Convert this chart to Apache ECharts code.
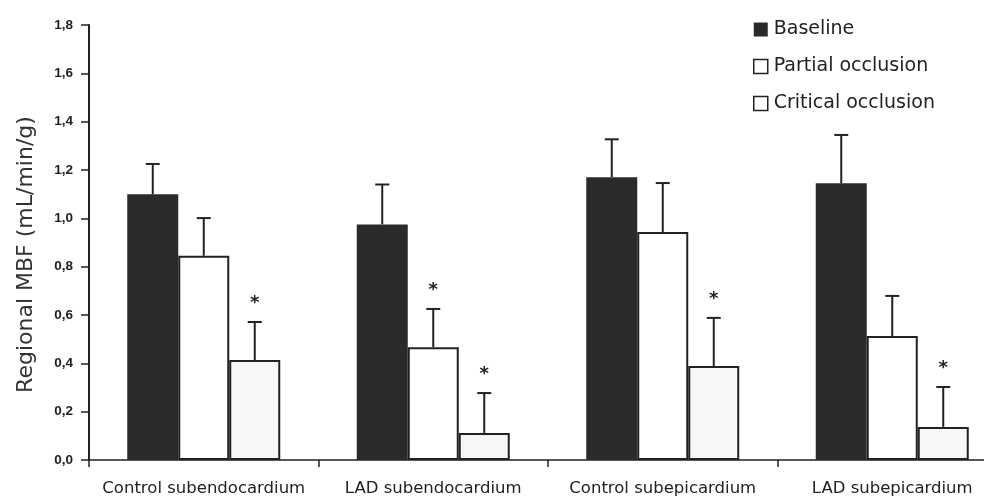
<!DOCTYPE html>
<html>
<head>
<meta charset="utf-8">
<script src="https://cdn.jsdelivr.net/npm/echarts@6/dist/echarts.min.js"></script>
<style>html,body{margin:0;padding:0;background:#fff;overflow:hidden;width:984px;height:502px}#c{width:1007px;height:502px}</style>
</head>
<body>
<div id="c"></div>
<script>
const categories = ['Control subendocardium', 'LAD subendocardium', 'Control subepicardium', 'LAD subepicardium'];
const seriesNames = ['Baseline', 'Partial occlusion', 'Critical occlusion'];
const baseline = [1.10, 0.975, 1.17, 1.145];
const baselineSD = [0.125, 0.165, 0.157, 0.20];
const partial = [0.845, 0.467, 0.943, 0.513];
const partialSD = [0.156, 0.158, 0.203, 0.166];
const critical = [0.414, 0.112, 0.389, 0.137];
const criticalSD = [0.157, 0.165, 0.199, 0.165];
const baselineSig = [0, 0, 0, 0];
const partialSig = [0, 1, 0, 0];
const criticalSig = [1, 1, 1, 1];
const yTicks = [0, 0.2, 0.4, 0.6, 0.8, 1.0, 1.2, 1.4, 1.6, 1.8];

const FONT = 'DejaVu Sans';
const INK = '#222';
const BAR_W = 51;
const fills = ['#2a2a2a', '#ffffff', '#f7f7f7'];

function barSeries(name, vals, idx) {
  return {
    name: name, type: 'bar', barWidth: BAR_W, barGap: '0%',
    data: vals,
    itemStyle: { color: fills[idx], borderColor: INK, borderWidth: idx === 0 ? 0 : 2 },
    emphasis: { disabled: true }
  };
}

function errSeries(name, vals, sds, sig, idx) {
  return {
    name: name, type: 'custom', z: 10,
    data: categories.map((c, i) => [i, vals[i], sds[i], sig[i]]),
    encode: { x: 0, y: 1 },
    renderItem: function (params, api) {
      const i = api.value(0), v = api.value(1), sd = api.value(2), s = api.value(3);
      const b = api.coord([i, v]);
      const t = api.coord([i, v + sd]);
      const x = b[0] + (idx - 1) * BAR_W;
      const children = [
        { type: 'line', shape: { x1: x, y1: b[1], x2: x, y2: t[1] }, style: { stroke: INK, lineWidth: 2 } },
        { type: 'line', shape: { x1: x - 7, y1: t[1], x2: x + 7, y2: t[1] }, style: { stroke: INK, lineWidth: 2 } }
      ];
      if (s) {
        children.push({ type: 'text', style: { text: '*', x: x, y: t[1] - 19, align: 'center', verticalAlign: 'middle', font: 'bold 18px ' + FONT, fill: INK } });
      }
      return { type: 'group', children: children };
    }
  };
}

const chart = echarts.init(document.getElementById('c'), null, { renderer: 'canvas' });
chart.setOption({
  animation: false,
  backgroundColor: '#fff',
  grid: { left: 89, top: 25, bottom: 42, right: 0, containLabel: false },
  legend: {
    orient: 'vertical', left: 748, top: 15, itemWidth: 14, itemHeight: 14, itemGap: 18,
    icon: 'rect',
    textStyle: { fontFamily: FONT, fontSize: 19, color: INK, padding: [0, 0, 0, 1] },
    data: [
      { name: seriesNames[0], itemStyle: { color: fills[0], borderWidth: 0 } },
      { name: seriesNames[1], itemStyle: { color: '#fff', borderColor: INK, borderWidth: 1.5 } },
      { name: seriesNames[2], itemStyle: { color: '#fff', borderColor: INK, borderWidth: 1.5 } }
    ]
  },
  xAxis: {
    type: 'category', data: categories,
    axisLine: { lineStyle: { color: INK, width: 1.5 } },
    axisTick: { show: true, interval: 0, length: 7, lineStyle: { color: INK, width: 1.5 } },
    axisLabel: { interval: 0, fontFamily: FONT, fontSize: 16.5, color: INK, margin: 20 }
  },
  yAxis: {
    type: 'value', min: 0, max: 1.8, interval: 0.2,
    name: 'Regional MBF (mL/min/g)', nameLocation: 'middle', nameGap: 52,
    nameTextStyle: { fontFamily: FONT, fontSize: 22, color: '#333', padding: [0, 24, 0, 0] },
    axisLine: { show: true, lineStyle: { color: INK, width: 2 } },
    axisTick: { show: true, length: 8, lineStyle: { color: INK, width: 1.5 } },
    splitLine: { show: false },
    axisLabel: {
      fontFamily: 'Liberation Sans', fontSize: 13.5, fontWeight: 'bold', color: INK, margin: 16,
      formatter: function (v) { return v.toFixed(1).replace('.', ','); }
    }
  },
  series: [
    barSeries(seriesNames[0], baseline, 0),
    barSeries(seriesNames[1], partial, 1),
    barSeries(seriesNames[2], critical, 2),
    errSeries(seriesNames[0], baseline, baselineSD, baselineSig, 0),
    errSeries(seriesNames[1], partial, partialSD, partialSig, 1),
    errSeries(seriesNames[2], critical, criticalSD, criticalSig, 2)
  ]
});
</script>
</body>
</html>
